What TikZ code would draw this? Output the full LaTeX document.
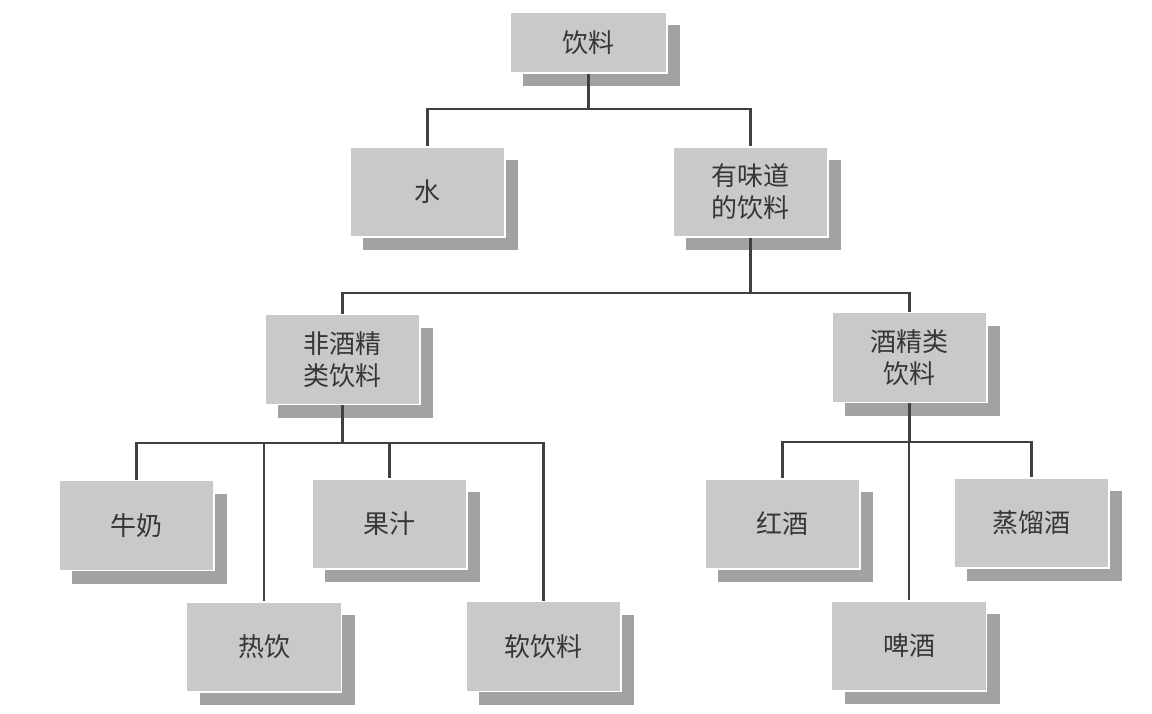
\documentclass[tikz,border=0pt]{standalone}
\usepackage{fontspec}
\newfontfamily\cjk{Noto Sans CJK SC}
\usetikzlibrary{shadows}
\definecolor{boxgray}{HTML}{C9C9C9}
\definecolor{shadegray}{HTML}{A2A2A2}
\definecolor{inkgray}{HTML}{363636}
\definecolor{linegray}{HTML}{404040}
\tikzset{
  catbox/.style={rectangle, fill=boxgray, draw=white, line width=1.2pt,
    minimum width=155pt, minimum height=90pt, inner sep=0pt, align=center,
    text=inkgray, font=\cjk\fontsize{26}{32}\selectfont,
    drop shadow={shadow xshift=13pt, shadow yshift=-13pt, fill=shadegray, opacity=1}},
  link/.style={draw=linegray, line width=2.2pt}
}
\begin{document}
\begin{tikzpicture}[x=1pt, y=-1pt]
\useasboundingbox (0,0) rectangle (1152,714);

% categories
\node[catbox, minimum width=157pt, minimum height=61pt] (root) at (588.5,42.5) {饮料};
\node[catbox] (water)  at (427.5,192) {水};
\node[catbox] (flavor) at (750.5,192) {有味道\\的饮料};
\node[catbox] (nonalc) at (342.5,359.5) {非酒精\\类饮料};
\node[catbox] (alc)    at (909.5,357.5) {酒精类\\饮料};
\node[catbox] (milk)   at (136.5,525.5) {牛奶};
\node[catbox] (hot)    at (264,647) {热饮};
\node[catbox] (juice)  at (389.5,524) {果汁};
\node[catbox] (soft)   at (543.5,646.5) {软饮料};
\node[catbox] (wine)   at (782.5,524) {红酒};
\node[catbox] (spirit) at (1031.5,523) {蒸馏酒};
\node[catbox] (beer)   at (909,646) {啤酒};

% horizontal buses
\coordinate (busA) at (589,109);
\coordinate (busB) at (750,293);
\coordinate (busC) at (342,443);
\coordinate (busD) at (909,442);

% connectors
\draw[link] (root.south) -- (root.south |- busA);
\draw[link] (root.south |- busA) -| (water.north);
\draw[link] (root.south |- busA) -| (flavor.north);

\draw[link] (flavor.south) -- (flavor.south |- busB);
\draw[link] (flavor.south |- busB) -| (nonalc.north);
\draw[link] (flavor.south |- busB) -| (alc.north);

\draw[link] (nonalc.south) -- (nonalc.south |- busC);
\draw[link] (nonalc.south |- busC) -| (milk.north);
\draw[link] (nonalc.south |- busC) -| (hot.north);
\draw[link] (nonalc.south |- busC) -| (juice.north);
\draw[link] (nonalc.south |- busC) -| (soft.north);

\draw[link] (alc.south) -- (alc.south |- busD);
\draw[link] (alc.south |- busD) -| (wine.north);
\draw[link] (alc.south |- busD) -| (spirit.north);
\draw[link] (alc.south |- busD) -| (beer.north);
\end{tikzpicture}
\end{document}
